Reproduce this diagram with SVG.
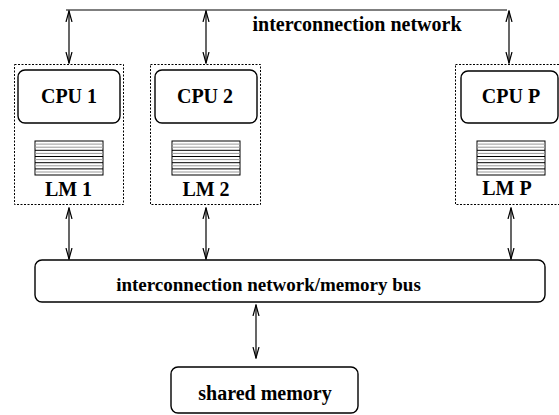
<svg xmlns="http://www.w3.org/2000/svg" width="559" height="415" viewBox="0 0 559 415">
<style>
text{font-family:"Liberation Serif","Times New Roman",serif;font-weight:bold;fill:#000;text-anchor:middle}
.big{font-size:20px}
.mid{font-size:20px}
.bus{font-size:19px}
.box{fill:#fff;stroke:#000;stroke-width:1.4}
.dot{fill:none;stroke:#000;stroke-width:1;stroke-dasharray:2,1.5}
.con{stroke:#000;stroke-width:1.2;fill:none}
.stk{fill:#fff;stroke:#000;stroke-width:1}
.lb{stroke:#000;stroke-width:1}
.lg{stroke:#999;stroke-width:1}
</style>
<defs>
<marker id="ah" viewBox="0 -4 12 8" refX="11" refY="0" markerWidth="12" markerHeight="8" markerUnits="userSpaceOnUse" orient="auto-start-reverse">
<path d="M0,-3 L11,0 L0,3" fill="none" stroke="#000" stroke-width="1.2"/>
</marker>
<g id="stack">
<rect class="stk" x="0" y="0" width="68" height="34"/>
<line class="lg" x1="0" y1="3.1" x2="68" y2="3.1"/>
<line class="lg" x1="0" y1="6.2" x2="68" y2="6.2"/>
<line class="lb" x1="0" y1="9.3" x2="68" y2="9.3"/>
<line class="lg" x1="0" y1="12.4" x2="68" y2="12.4"/>
<line class="lb" x1="0" y1="15.5" x2="68" y2="15.5"/>
<line class="lg" x1="0" y1="18.6" x2="68" y2="18.6"/>
<line class="lb" x1="0" y1="21.7" x2="68" y2="21.7"/>
<line class="lg" x1="0" y1="24.8" x2="68" y2="24.8"/>
<line class="lb" x1="0" y1="27.9" x2="68" y2="27.9"/>
<line class="lg" x1="0" y1="31" x2="68" y2="31"/>
</g>
</defs>
<rect width="559" height="415" fill="#fff"/>

<g id="connectors">
<line class="con" x1="66" y1="10" x2="507" y2="10"/>
<line class="con" x1="69" y1="11" x2="69" y2="63" marker-start="url(#ah)" marker-end="url(#ah)"/>
<line class="con" x1="206" y1="11" x2="206" y2="63" marker-start="url(#ah)" marker-end="url(#ah)"/>
<line class="con" x1="509" y1="11" x2="509" y2="63" marker-start="url(#ah)" marker-end="url(#ah)"/>
<line class="con" x1="69" y1="208" x2="69" y2="259" marker-start="url(#ah)" marker-end="url(#ah)"/>
<line class="con" x1="206" y1="208" x2="206" y2="259" marker-start="url(#ah)" marker-end="url(#ah)"/>
<line class="con" x1="511" y1="208" x2="511" y2="259" marker-start="url(#ah)" marker-end="url(#ah)"/>
<line class="con" x1="256" y1="305" x2="256" y2="358" marker-start="url(#ah)" marker-end="url(#ah)"/>
</g>

<g id="net-label"><text class="mid" x="357" y="31">interconnection network</text></g>

<g id="node1">
<rect class="dot" x="14.5" y="64.5" width="109" height="140"/>
<rect class="box" x="18" y="70" width="102" height="53" rx="7"/>
<text class="big" x="69" y="103">CPU 1</text>
<use href="#stack" x="35" y="141"/>
<text class="big" x="68.5" y="196">LM 1</text>
</g>

<g id="node2">
<rect class="dot" x="150.5" y="64.5" width="110" height="140"/>
<rect class="box" x="155" y="70" width="102" height="53" rx="7"/>
<text class="big" x="205" y="103">CPU 2</text>
<use href="#stack" x="172" y="141"/>
<text class="big" x="206" y="196">LM 2</text>
</g>

<g id="nodeP">
<rect class="dot" x="455.5" y="64.5" width="110" height="140"/>
<rect class="box" x="461" y="71" width="97" height="52" rx="7"/>
<text class="big" x="511" y="103">CPU P</text>
<use href="#stack" x="477" y="141"/>
<text class="big" x="507" y="195">LM P</text>
</g>

<g id="bus">
<rect class="box" x="35" y="260" width="510" height="42" rx="7"/>
<text class="bus" x="268.5" y="291">interconnection network/memory bus</text>
</g>

<g id="shared">
<rect class="box" x="171" y="367" width="187" height="46" rx="7"/>
<text class="mid" x="265" y="400">shared memory</text>
</g>
</svg>
